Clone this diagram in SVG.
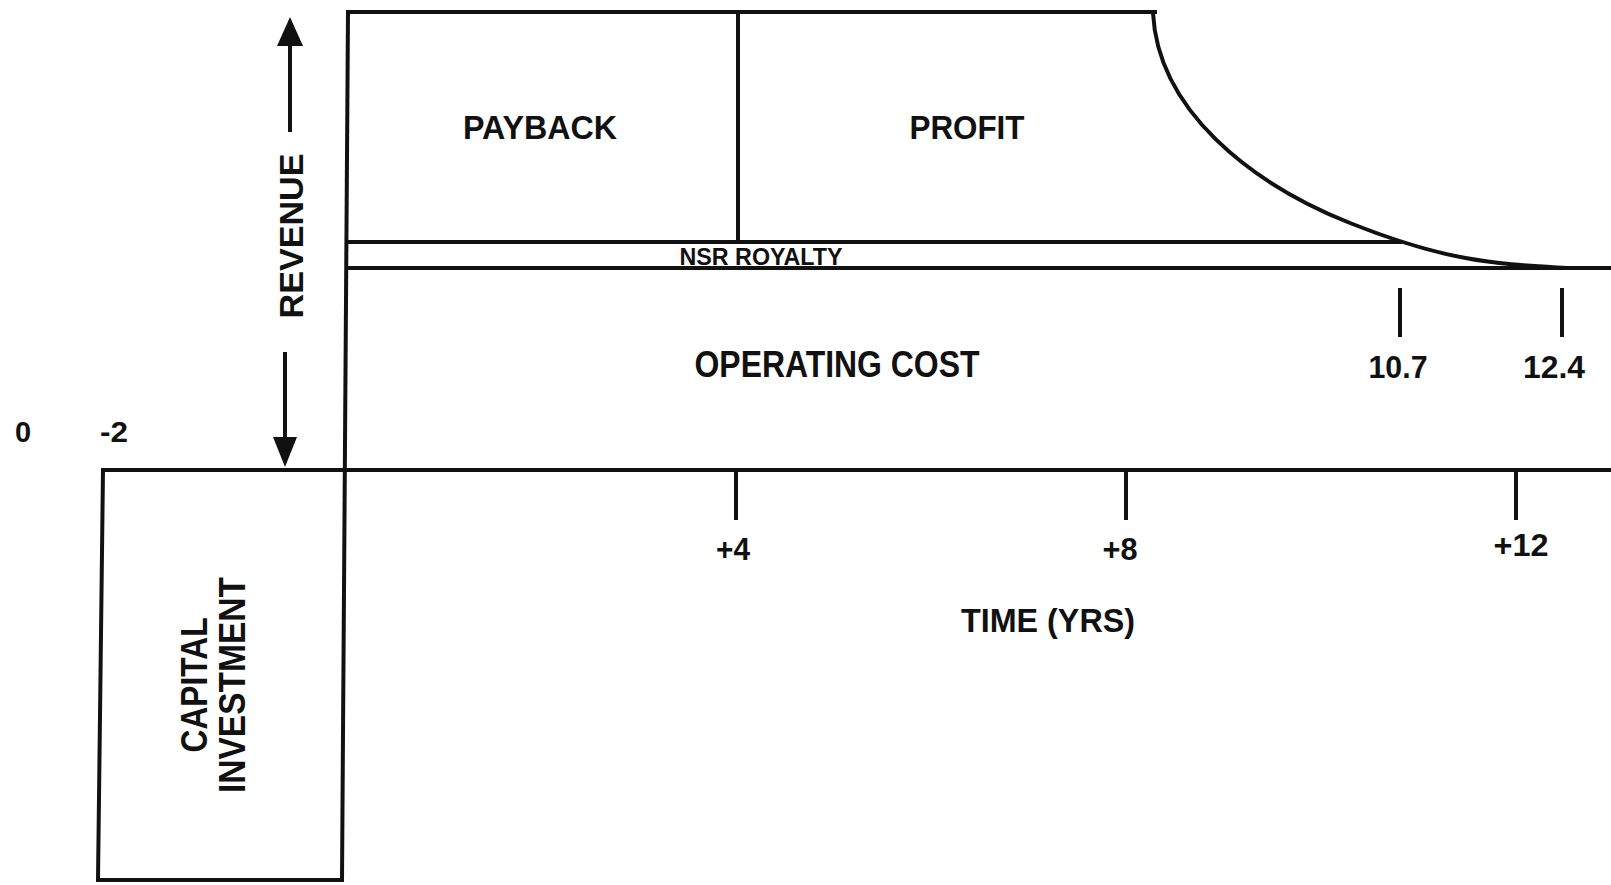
<svg xmlns="http://www.w3.org/2000/svg" width="1611" height="885" viewBox="0 0 1611 885">
<style>
.ln{stroke:#111;stroke-width:4;fill:none;stroke-linecap:square}
.t{font-family:"Liberation Sans",Arial,sans-serif;font-weight:bold;fill:#111;text-anchor:middle}
.big{font-size:34px}
.num{font-size:32px}
</style>
<rect width="1611" height="885" fill="#fff"/>
<g id="connectors">
<line x1="290" y1="130" x2="290" y2="42" class="ln" stroke-width="3"/>
<path d="M277,46 L290,17 L303,46 Z" fill="#111"/>
<line x1="285" y1="354" x2="285" y2="440" class="ln" stroke-width="3"/>
<path d="M273,437 L285,467 L297,437 Z" fill="#111"/>
</g>
<g id="frame">
<line x1="348" y1="12" x2="1155" y2="12" class="ln"/>
<line x1="348" y1="12" x2="342" y2="880" class="ln"/>
<line x1="103" y1="470" x2="1611" y2="470" class="ln"/>
<line x1="738" y1="12" x2="738" y2="242" class="ln" stroke-width="3"/>
<line x1="348" y1="242" x2="1400" y2="242" class="ln"/>
<line x1="348" y1="268" x2="1611" y2="268" class="ln"/>
<path d="M1153,13 C1158,110 1250,183 1350,223 S1500,264 1567,268" class="ln"/>
</g>
<g id="capital-investment">
<path d="M103,470 L98,880 L342,880" class="ln"/>
<text class="t" font-size="36" transform="translate(207,685) rotate(-90)" textLength="135" lengthAdjust="spacingAndGlyphs">CAPITAL</text>
<text class="t" font-size="36" transform="translate(245,685) rotate(-90)" textLength="216" lengthAdjust="spacingAndGlyphs">INVESTMENT</text>
</g>
<g id="revenue">
<text class="t" font-size="33" transform="translate(303,236) rotate(-90)" textLength="165" lengthAdjust="spacingAndGlyphs">REVENUE</text>
</g>
<g id="payback"><text class="t big" x="540" y="139" textLength="154" lengthAdjust="spacingAndGlyphs">PAYBACK</text></g>
<g id="profit"><text class="t big" x="967" y="139" textLength="115" lengthAdjust="spacingAndGlyphs">PROFIT</text></g>
<g id="nsr-royalty"><text class="t" font-size="23.5" x="761" y="265" textLength="163" lengthAdjust="spacingAndGlyphs">NSR ROYALTY</text></g>
<g id="operating-cost"><text class="t" font-size="36" x="837" y="377" textLength="285" lengthAdjust="spacingAndGlyphs">OPERATING COST</text></g>
<g id="ticks">
<line x1="1400" y1="290" x2="1400" y2="335" class="ln"/>
<line x1="1562" y1="290" x2="1562" y2="335" class="ln"/>
<line x1="736" y1="473" x2="736" y2="518" class="ln"/>
<line x1="1126" y1="473" x2="1126" y2="518" class="ln"/>
<line x1="1516" y1="473" x2="1516" y2="518" class="ln"/>
</g>
<g id="labels">
<text class="t num" x="1398" y="378" textLength="59" lengthAdjust="spacingAndGlyphs">10.7</text>
<text class="t num" x="1554" y="378" textLength="62" lengthAdjust="spacingAndGlyphs">12.4</text>
<text class="t num" x="733" y="560" textLength="34" lengthAdjust="spacingAndGlyphs">+4</text>
<text class="t num" x="1120" y="560" textLength="35" lengthAdjust="spacingAndGlyphs">+8</text>
<text class="t num" x="1521" y="556" textLength="55" lengthAdjust="spacingAndGlyphs">+12</text>
<text class="t" font-size="29" x="23" y="442">0</text>
<text class="t" font-size="29" x="114" y="442" textLength="28" lengthAdjust="spacingAndGlyphs">-2</text>
<text class="t big" x="1048" y="632" textLength="174" lengthAdjust="spacingAndGlyphs">TIME (YRS)</text>
</g>
</svg>
